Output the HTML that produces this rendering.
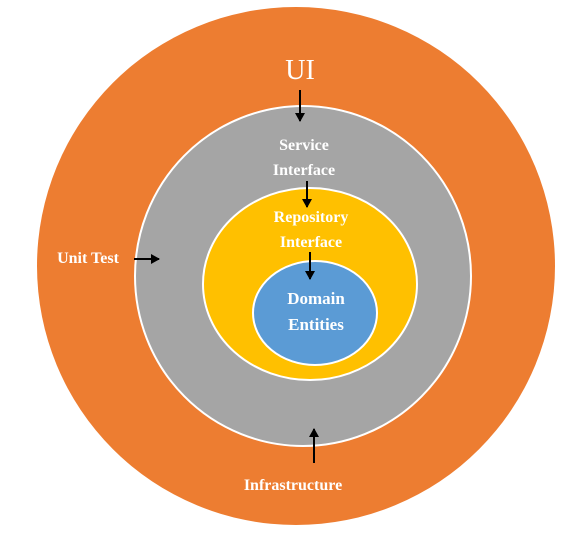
<!DOCTYPE html>
<html><head><style>body{margin:0;background:#fff}svg{display:block}</style></head><body>
<svg width="587" height="542" xmlns="http://www.w3.org/2000/svg" font-family="Liberation Serif, serif" font-weight="bold" fill="#fff">
<defs><marker id="a" markerWidth="10" markerHeight="10" refX="8" refY="5" orient="auto" markerUnits="userSpaceOnUse"><path d="M0,0 L9,5 L0,10 z" fill="#000"/></marker></defs>
<circle cx="296" cy="266" r="259" fill="#ed7d31"/>
<ellipse cx="303" cy="276" rx="168" ry="170" fill="#a5a5a5" stroke="#fff" stroke-width="2"/>
<ellipse cx="310" cy="284" rx="107" ry="96" fill="#ffc000" stroke="#fff" stroke-width="2"/>
<ellipse cx="315" cy="313" rx="62" ry="52" fill="#5b9bd5" stroke="#fff" stroke-width="2"/>
<g stroke="#000" stroke-width="2" marker-end="url(#a)">
<line x1="300" y1="90" x2="300" y2="121"/>
<line x1="307" y1="181" x2="307" y2="207"/>
<line x1="310" y1="252" x2="310" y2="279"/>
<line x1="134" y1="259" x2="159" y2="259"/>
<line x1="314" y1="463" x2="314" y2="429"/>
</g>
<text x="300" y="79" font-size="28" text-anchor="middle" font-weight="normal">UI</text>
<g font-size="16" text-anchor="middle">
<text x="304" y="150">Service</text>
<text x="304" y="175">Interface</text>
<text x="311" y="222">Repository</text>
<text x="311" y="247">Interface</text>
<text x="316" y="304" font-size="17">Domain</text>
<text x="316" y="330" font-size="17">Entities</text>
<text x="88" y="263">Unit Test</text>
<text x="293" y="490">Infrastructure</text>
</g>
</svg>
</body></html>
